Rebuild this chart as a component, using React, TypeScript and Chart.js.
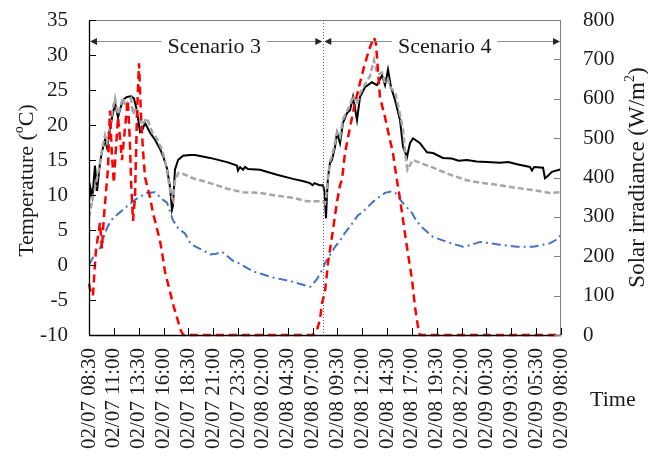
import React, { useEffect, useRef } from 'react';
import { Chart, registerables } from 'chart.js';

Chart.register(...registerables);

const FONT = '"Liberation Serif", "Times New Roman", serif';
const TEXT_COLOR = '#1a1a1a';

// x axis: hours after 02/07 08:30
const timeTickLabels = [
  '02/07 08:30', '02/07 11:00', '02/07 13:30', '02/07 16:00', '02/07 18:30',
  '02/07 21:00', '02/07 23:30', '02/08 02:00', '02/08 04:30', '02/08 07:00',
  '02/08 09:30', '02/08 12:00', '02/08 14:30', '02/08 17:00', '02/08 19:30',
  '02/08 22:00', '02/09 00:30', '02/09 03:00', '02/09 05:30', '02/09 08:00',
];
const TICK_STEP_HOURS = 2.5;
const SPAN_HOURS = 47.5;

const scenarioNames = ['Scenario 3', 'Scenario 4'];
const scenarioSpans = [[0, 23.58], [23.58, 47.5]];
const scenarioLabelHours = [12.6, 35.8];
const dividerHour = 23.58;

// [hour, °C]
const innerTemp: [number, number][] = [
  [0.0, 9.0], [0.15, 11.0], [0.35, 9.8], [0.6, 14.2], [0.81, 10.6], [1.11, 14.6], [1.31, 16.2],
  [1.61, 17.9], [1.81, 16.8], [2.11, 19.3], [2.31, 21.0], [2.62, 23.1], [2.92, 21.1], [3.12, 22.2],
  [3.42, 23.6], [3.82, 24.0], [4.23, 24.1], [4.53, 23.8], [4.83, 22.0], [5.13, 19.0], [5.33, 19.2],
  [5.64, 20.3], [6.14, 18.9], [6.64, 17.9], [7.14, 16.6], [7.45, 15.6], [7.85, 13.8], [8.15, 11.2],
  [8.35, 7.9], [8.45, 8.5], [8.65, 13.6], [8.96, 15.0], [9.46, 15.6], [10.16, 15.7], [10.67, 15.7],
  [12.18, 15.3], [13.89, 14.7], [14.89, 14.2], [14.99, 13.5], [15.2, 14.0], [15.5, 13.6], [15.7, 14.0],
  [16.0, 13.7], [17.21, 13.6], [18.92, 12.9], [20.53, 12.3], [21.5, 12.0], [22.24, 11.7], [22.5, 11.4],
  [22.7, 11.7], [23.2, 11.4], [23.55, 11.4], [23.7, 10.5], [23.85, 6.7], [23.95, 10.0], [24.05, 12.5],
  [24.25, 14.6], [24.45, 15.0], [24.76, 16.9], [24.96, 18.9], [25.26, 17.4], [25.56, 20.3], [25.96, 21.7],
  [26.27, 22.1], [26.57, 24.0], [26.97, 20.7], [27.27, 24.0], [27.77, 25.4], [28.48, 26.1], [28.98, 25.7],
  [29.49, 27.1], [29.79, 25.7], [30.09, 27.9], [30.39, 25.4], [30.79, 23.6], [31.3, 20.7], [31.6, 16.9],
  [32.0, 15.4], [32.3, 17.4], [32.61, 18.1], [33.31, 17.4], [34.01, 16.1], [34.62, 16.0], [35.62, 15.3],
  [36.5, 15.2], [37.2, 14.9], [38.04, 15.0], [39.0, 14.8], [40.05, 14.7], [41.36, 14.6], [42.2, 14.7],
  [43.07, 14.4], [44.38, 14.0], [44.58, 13.5], [44.8, 14.0], [45.69, 13.9], [45.89, 12.4], [46.09, 12.6],
  [46.59, 13.3], [47.5, 13.7],
];

const coverTemp: [number, number][] = [
  [0.0, 6.8], [0.3, 9.0], [0.6, 11.0], [0.9, 13.0], [1.11, 14.5], [1.31, 16.5], [1.61, 18.5],
  [1.81, 17.5], [2.11, 19.8], [2.42, 22.5], [2.62, 23.8], [2.92, 21.5], [3.22, 23.0], [3.42, 23.9],
  [3.72, 22.5], [3.92, 23.3], [4.23, 23.8], [4.43, 21.5], [4.73, 22.5], [5.03, 21.5], [5.33, 20.0],
  [5.84, 21.0], [6.34, 19.0], [6.84, 18.0], [7.35, 16.5], [7.65, 15.0], [7.95, 12.5], [8.25, 10.0],
  [8.45, 9.3], [8.65, 12.0], [8.96, 13.1], [9.16, 13.2], [10.47, 12.4], [12.18, 11.7], [13.89, 10.9],
  [15.5, 10.4], [17.21, 10.3], [18.92, 9.9], [20.53, 9.6], [21.94, 9.1], [23.55, 9.1], [23.75, 8.8],
  [23.85, 9.5], [24.05, 12.5], [24.25, 14.8], [24.45, 15.5], [24.76, 17.5], [24.96, 19.0], [25.26, 18.3],
  [25.56, 20.8], [25.96, 22.0], [26.27, 22.8], [26.57, 24.2], [26.97, 23.0], [27.27, 24.5], [27.77, 25.8],
  [28.28, 27.0], [28.48, 28.2], [28.68, 29.3], [28.88, 28.0], [29.08, 27.2], [29.49, 27.5], [29.79, 26.0],
  [30.09, 26.5], [30.39, 25.2], [30.79, 24.8], [31.3, 21.5], [31.6, 19.3], [31.9, 15.0], [32.05, 13.6],
  [32.5, 14.8], [32.61, 15.0], [33.31, 14.6], [34.62, 13.9], [36.33, 12.9], [38.04, 12.1], [39.65, 11.7],
  [41.36, 11.4], [43.07, 11.0], [44.68, 10.7], [46.39, 10.3], [47.5, 10.4],
];

const outdoorTemp: [number, number][] = [
  [0.0, 0.0], [0.3, 0.8], [0.6, 1.6], [1.11, 2.4], [1.31, 3.0], [1.61, 4.5], [1.91, 5.6], [2.11, 6.0],
  [2.42, 6.7], [2.92, 7.3], [3.42, 7.9], [3.92, 8.5], [4.43, 9.1], [4.93, 9.6], [5.43, 10.0], [5.84, 10.3],
  [6.64, 10.4], [7.14, 9.7], [7.45, 9.3], [7.85, 8.9], [8.45, 6.4], [9.0, 5.2], [9.66, 4.5], [10.16, 3.2],
  [10.47, 2.8], [11.87, 1.8], [12.18, 1.5], [12.8, 1.6], [13.38, 1.9], [14.49, 0.6], [14.89, 0.4],
  [16.5, -0.9], [18.52, -1.8], [18.92, -1.9], [20.53, -2.4], [21.94, -3.0], [22.3, -3.1], [22.95, -2.0],
  [23.55, -0.5], [23.75, 0.3], [24.25, 1.4], [24.76, 2.6], [25.26, 3.5], [25.76, 4.6], [26.27, 5.5],
  [27.07, 7.1], [27.57, 7.6], [28.48, 8.9], [28.98, 9.5], [29.79, 10.3], [30.39, 10.5], [30.79, 10.4],
  [31.1, 9.8], [31.5, 9.0], [32.51, 7.4], [33.01, 6.2], [33.51, 5.4], [34.62, 4.0], [36.03, 3.3],
  [37.64, 2.6], [38.5, 2.9], [39.35, 3.3], [41.36, 2.9], [43.07, 2.6], [44.68, 2.6], [46.39, 3.1],
  [47.0, 3.6], [47.5, 4.3],
];

// [hour, W/m²]
const solarIrradiance: [number, number][] = [
  [0.0, 130], [0.2, 105], [0.4, 100], [0.55, 160], [0.7, 215], [0.9, 250], [1.1, 285], [1.3, 220],
  [1.5, 300], [1.7, 360], [1.9, 420], [2.11, 570], [2.3, 460], [2.5, 386], [2.7, 470], [2.92, 553],
  [3.12, 500], [3.32, 444], [3.6, 520], [3.9, 596], [4.1, 500], [4.25, 380], [4.43, 290], [4.63, 350],
  [4.83, 560], [5.03, 690], [5.23, 560], [5.43, 470], [5.64, 400], [5.84, 380], [6.14, 350], [6.44, 310],
  [6.84, 270], [7.14, 240], [7.35, 210], [7.65, 160], [7.95, 130], [8.25, 100], [8.55, 70], [8.96, 35],
  [9.26, 10], [9.5, 0], [22.5, 0], [22.95, 13], [23.25, 40], [23.45, 81], [23.75, 110], [23.95, 157],
  [24.05, 183], [24.45, 249], [24.96, 339], [25.26, 380], [25.46, 395], [25.76, 462], [26.27, 528],
  [26.77, 589], [27.27, 640], [27.77, 690], [28.28, 731], [28.68, 756], [28.88, 740], [29.08, 673],
  [29.28, 604], [29.79, 553], [30.29, 495], [30.59, 462], [30.79, 426], [31.1, 376], [31.3, 345],
  [31.5, 310], [32.0, 223], [32.51, 140], [32.81, 71], [33.11, 20], [33.31, 0], [47.5, 0],
];

const toXY = (pts: [number, number][]) => pts.map(([x, y]) => ({ x, y }));

function drawRotatedPieces(ctx: CanvasRenderingContext2D, cx: number, cy: number,
  pieces: { t: string; sup?: boolean }[], size: number) {
  ctx.save();
  ctx.translate(cx, cy);
  ctx.rotate(-Math.PI / 2);
  const supSize = Math.round(size * 0.62);
  const widths = pieces.map(p => {
    ctx.font = `${p.sup ? supSize : size}px ${FONT}`;
    return ctx.measureText(p.t).width;
  });
  const total = widths.reduce((a, b) => a + b, 0);
  let x = -total / 2;
  ctx.textBaseline = 'alphabetic';
  ctx.textAlign = 'left';
  ctx.fillStyle = TEXT_COLOR;
  pieces.forEach((p, i) => {
    ctx.font = `${p.sup ? supSize : size}px ${FONT}`;
    ctx.fillText(p.t, x, p.sup ? size * 0.35 - size * 0.42 : size * 0.35);
    x += widths[i];
  });
  ctx.restore();
}

const decorPlugin = {
  id: 'decor',
  afterDraw(chart: any) {
    const { ctx, chartArea: a, scales } = chart;
    const xs = scales.x, ys = scales.y, y1s = scales.y1;
    ctx.save();
    // frame
    ctx.lineWidth = 1;
    ctx.strokeStyle = '#7f7f7f';
    ctx.beginPath();
    ctx.moveTo(a.left, a.top + 0.5); ctx.lineTo(a.right, a.top + 0.5);
    ctx.moveTo(a.right - 0.5, a.top); ctx.lineTo(a.right - 0.5, a.bottom);
    ctx.stroke();
    ctx.strokeStyle = '#000000';
    ctx.lineWidth = 1.3;
    ctx.beginPath();
    ctx.moveTo(a.left + 0.5, a.top); ctx.lineTo(a.left + 0.5, a.bottom + 0.5);
    ctx.moveTo(a.left, a.bottom + 0.5); ctx.lineTo(a.right, a.bottom + 0.5);
    ctx.stroke();
    // inside ticks
    ctx.lineWidth = 1;
    ctx.strokeStyle = '#000000';
    ctx.beginPath();
    ys.ticks.forEach((t: any) => {
      const p = Math.round(ys.getPixelForValue(t.value)) + 0.5;
      ctx.moveTo(a.left, p); ctx.lineTo(a.left + 7, p);
    });
    xs.ticks.forEach((t: any) => {
      const p = Math.round(xs.getPixelForValue(t.value)) + 0.5;
      ctx.moveTo(p, a.bottom); ctx.lineTo(p, a.bottom - 7);
    });
    ctx.stroke();
    ctx.strokeStyle = '#7f7f7f';
    ctx.beginPath();
    y1s.ticks.forEach((t: any) => {
      const p = Math.round(y1s.getPixelForValue(t.value)) + 0.5;
      ctx.moveTo(a.right - 7, p); ctx.lineTo(a.right, p);
    });
    ctx.stroke();
    // divider
    const dx = Math.round(xs.getPixelForValue(dividerHour)) + 0.5;
    ctx.setLineDash([1, 2]);
    ctx.strokeStyle = '#606060';
    ctx.beginPath();
    ctx.moveTo(dx, a.top); ctx.lineTo(dx, a.bottom);
    ctx.stroke();
    ctx.setLineDash([]);
    // scenario arrows
    const ay = a.top + 21.5;
    ctx.font = `22px ${FONT}`;
    scenarioNames.forEach((name, i) => {
      const x0 = xs.getPixelForValue(scenarioSpans[i][0]) + 1;
      const x1 = xs.getPixelForValue(scenarioSpans[i][1]) - 1;
      const tc = xs.getPixelForValue(scenarioLabelHours[i]);
      const w = ctx.measureText(name).width;
      ctx.strokeStyle = '#8c8c8c';
      ctx.lineWidth = 1;
      ctx.beginPath();
      ctx.moveTo(x0 + 4, ay); ctx.lineTo(tc - w / 2 - 6, ay);
      ctx.moveTo(tc + w / 2 + 6, ay); ctx.lineTo(x1 - 4, ay);
      ctx.stroke();
      ctx.fillStyle = '#262626';
      ctx.beginPath();
      ctx.moveTo(x0, ay); ctx.lineTo(x0 + 7, ay - 3.5); ctx.lineTo(x0 + 7, ay + 3.5); ctx.closePath();
      ctx.fill();
      ctx.beginPath();
      ctx.moveTo(x1, ay); ctx.lineTo(x1 - 7, ay - 3.5); ctx.lineTo(x1 - 7, ay + 3.5); ctx.closePath();
      ctx.fill();
      ctx.fillStyle = TEXT_COLOR;
      ctx.textAlign = 'center';
      ctx.textBaseline = 'alphabetic';
      ctx.fillText(name, tc, a.top + 33);
    });
    // axis titles
    drawRotatedPieces(ctx, 25, (a.top + a.bottom) / 2 + 3,
      [{ t: 'Temperature (' }, { t: 'o', sup: true }, { t: 'C)' }], 22);
    drawRotatedPieces(ctx, 636, (a.top + a.bottom) / 2,
      [{ t: 'Solar irradiance (W/m' }, { t: '2', sup: true }, { t: ')' }], 23);
    ctx.font = `22px ${FONT}`;
    ctx.fillStyle = TEXT_COLOR;
    ctx.textAlign = 'left';
    ctx.textBaseline = 'alphabetic';
    ctx.fillText('Time', 590, 406);
    ctx.restore();
  },
};

const zeroPad = (s: any) => { s.paddingTop = 0; s.paddingBottom = 0; s.paddingLeft = 0; s.paddingRight = 0; };

export default function App() {
  const ref = useRef<HTMLCanvasElement | null>(null);
  useEffect(() => {
    if (!ref.current) return;
    const tickFont = { family: FONT, size: 21 };
    const chart = new Chart(ref.current, {
      type: 'line',
      data: {
        datasets: [
          {
            label: 'Solar irradiance', data: toXY(solarIrradiance), yAxisID: 'y1',
            borderColor: '#ff0000', borderWidth: 2.5, borderDash: [8, 5], pointRadius: 0, order: 1, clip: 6,
          } as any,
          {
            label: 'Outdoor temperature', data: toXY(outdoorTemp), yAxisID: 'y',
            borderColor: '#4472c4', borderWidth: 2, borderDash: [9, 4, 2, 4], pointRadius: 0, order: 2,
          },
          {
            label: 'Cover temperature', data: toXY(coverTemp), yAxisID: 'y',
            borderColor: '#a6a6a6', borderWidth: 2.5, borderDash: [6, 3], pointRadius: 0, order: 3,
          },
          {
            label: 'Inside temperature', data: toXY(innerTemp), yAxisID: 'y',
            borderColor: '#000000', borderWidth: 2, pointRadius: 0, order: 4,
          },
        ],
      },
      options: {
        responsive: false,
        animation: false,
        devicePixelRatio: 1,
        events: [],
        layout: { padding: { top: 20, left: 0, right: 0, bottom: 0 } },
        plugins: { legend: { display: false }, tooltip: { enabled: false } },
        elements: { line: { tension: 0 } },
        scales: {
          x: {
            type: 'linear', min: 0, max: SPAN_HOURS,
            grid: { display: false, drawTicks: false }, border: { display: false },
            ticks: {
              stepSize: TICK_STEP_HOURS, autoSkip: false, minRotation: 90, maxRotation: 90,
              padding: 13, font: tickFont, color: TEXT_COLOR,
              callback: (v: any) => timeTickLabels[Math.round(Number(v) / TICK_STEP_HOURS)] ?? '',
            },
            afterFit: (s: any) => { s.height = 133; zeroPad(s); },
          },
          y: {
            type: 'linear', position: 'left', min: -10, max: 35,
            grid: { display: false, drawTicks: false }, border: { display: false },
            ticks: { stepSize: 5, padding: 21, font: tickFont, color: TEXT_COLOR },
            afterFit: (s: any) => { s.width = 89; zeroPad(s); },
          },
          y1: {
            type: 'linear', position: 'right', min: 0, max: 800,
            grid: { display: false, drawTicks: false }, border: { display: false },
            ticks: { stepSize: 100, padding: 22, font: tickFont, color: TEXT_COLOR },
            afterFit: (s: any) => { s.width = 87; zeroPad(s); },
          },
        },
      },
      plugins: [decorPlugin],
    } as any);
    return () => chart.destroy();
  }, []);
  return (
    <div style={{ position: 'fixed', left: 0, top: 0, width: 648, height: 468, background: '#ffffff' }}>
      <canvas ref={ref} width={648} height={468} style={{ display: 'block' }} />
    </div>
  );
}
